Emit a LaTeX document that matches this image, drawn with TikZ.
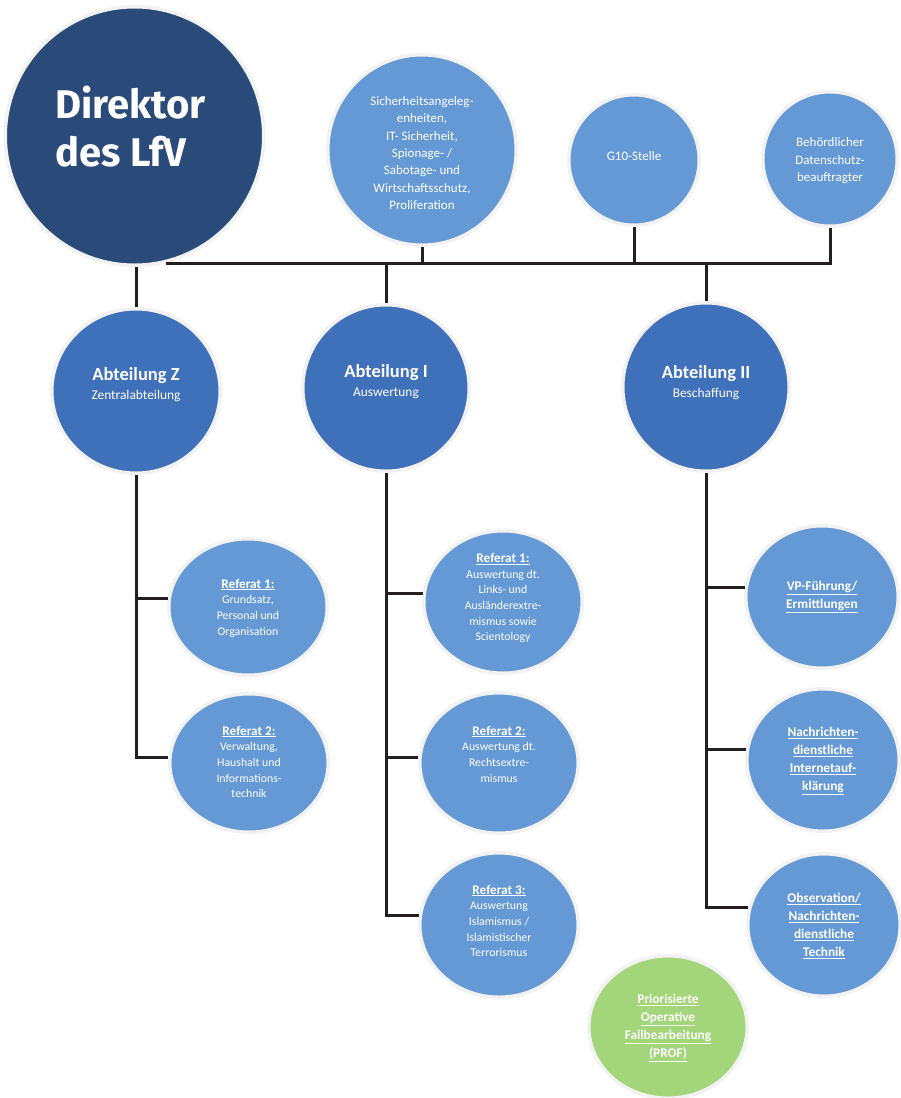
\documentclass[tikz,border=0pt]{standalone}
\usepackage{fontspec}
\setmainfont{Carlito}
\newfontfamily\dirfont{Fira Sans}
\usetikzlibrary{shapes.geometric}
\definecolor{dirblue}{HTML}{2A4A7A}
\definecolor{abtblue}{HTML}{3F70BA}
\definecolor{refblue}{HTML}{6499D6}
\definecolor{profgreen}{HTML}{A3D57A}
\definecolor{ringgray}{HTML}{F2F2F2}
\definecolor{linec}{HTML}{231F20}
\begin{document}
\begin{tikzpicture}[x=1pt,y=-1pt,
  el/.style 2 args={ellipse, draw=ringgray, line width=3.5pt, inner sep=0pt,
    minimum width=#1, minimum height=#2},
  conn/.style={draw=linec, line width=3pt},
  txt/.style={text=white, align=center, inner sep=0pt},
  toptxt/.style={txt, font=\fontsize{13}{17.4}\selectfont},
  reftxt/.style={txt, font=\fontsize{11.8}{15.7}\selectfont},
  ultxt/.style={txt, font=\bfseries\fontsize{13.3}{18}\selectfont},
]
\useasboundingbox (0,0) rectangle (901,1098);
\fill[white] (0,0) rectangle (901,1098);

% circles
\node[el={258.5pt}{258.5pt}, fill=dirblue] (dir) at (134.5,136) {};
\node[el={188.5pt}{190.5pt}, fill=refblue] (sich) at (422,150) {};
\node[el={130.5pt}{130.5pt}, fill=refblue] (g10) at (634,160) {};
\node[el={134.5pt}{134.5pt}, fill=refblue] (beh) at (830,159) {};

\node[el={168.5pt}{164.5pt}, fill=abtblue] (abtz) at (136,391) {};
\node[el={166.5pt}{166.5pt}, fill=abtblue] (abti) at (386,388) {};
\node[el={166.5pt}{168.5pt}, fill=abtblue] (abtii) at (706,387) {};

\node[el={158.5pt}{136.5pt}, fill=refblue] (rz1) at (248,607) {};
\node[el={158.5pt}{138.5pt}, fill=refblue] (rz2) at (249,763) {};
\node[el={158.5pt}{142.5pt}, fill=refblue] (ri1) at (503,602) {};
\node[el={158.5pt}{140.5pt}, fill=refblue] (ri2) at (499,763) {};
\node[el={158.5pt}{144.5pt}, fill=refblue] (ri3) at (499,925) {};

\node[el={152.5pt}{142.5pt}, fill=refblue] (vp) at (822,597) {};
\node[el={152.5pt}{142.5pt}, fill=refblue] (nd) at (823,760) {};
\node[el={152.5pt}{142.5pt}, fill=refblue] (obs) at (824,925) {};
\node[el={158.5pt}{142.5pt}, fill=profgreen] (prof) at (668,1027) {};

% connectors
\coordinate (bar) at (0,263);
\draw[conn] (dir.-76) -| (beh.south);
\draw[conn] (sich.south) -- (sich.south |- bar);
\draw[conn] (g10.south) -- (g10.south |- bar);
\draw[conn] (abtz.north) -- (abtz.north |- dir.south);
\draw[conn] (abti.north) -- (abti.north |- bar);
\draw[conn] (abtii.north) -- (abtii.north |- bar);

\draw[conn] (abtz.south) |- (rz2.176);
\draw[conn] (rz1.174) -| (abtz.south);
\draw[conn] (abti.south) |- (ri3.173);
\draw[conn] (ri1.174) -| (abti.south);
\draw[conn] (ri2.176) -| (abti.south);
\draw[conn] (abtii.south) |- (obs.167);
\draw[conn] (vp.173) -| (abtii.south);
\draw[conn] (nd.172) -| (abtii.south);

% texts
\node[anchor=base west, text=white, align=left, inner sep=0pt,
  font=\dirfont\bfseries\fontsize{40}{48}\selectfont] (dirt) at (55,166) {Direktor\\des LfV};

\node[toptxt] (sicht) at (422,153) {Sicherheitsangeleg-\\enheiten,\\IT- Sicherheit,\\Spionage- /\\Sabotage- und\\Wirtschaftsschutz,\\Proliferation};
\node[toptxt] (g10t) at (634,156) {G10-Stelle};
\node[toptxt] (beht) at (830,161) {Behördlicher\\Datenschutz-\\beauftragter};

\node[txt, font=\fontsize{13.4}{19}\selectfont] (abtzt) at (136,385) {{\bfseries\fontsize{18.5}{19}\selectfont Abteilung Z}\\Zentralabteilung};
\node[txt, font=\fontsize{13.4}{19}\selectfont] (abtit) at (386,382) {{\bfseries\fontsize{18.5}{19}\selectfont Abteilung I}\\Auswertung};
\node[txt, font=\fontsize{13.4}{19}\selectfont] (abtiit) at (706,383) {{\bfseries\fontsize{18.5}{19}\selectfont Abteilung II}\\Beschaffung};

\node[reftxt] (rz1t) at (248,608) {{\bfseries\fontsize{13.2}{15.7}\selectfont\underline{Referat 1:}}\\Grundsatz,\\Personal und\\Organisation};
\node[reftxt] (rz2t) at (249,762) {{\bfseries\fontsize{13.2}{15.7}\selectfont\underline{Referat 2:}}\\Verwaltung,\\Haushalt und\\Informations-\\technik};
\node[reftxt] (ri1t) at (503,598) {{\bfseries\fontsize{13.2}{15.7}\selectfont\underline{Referat 1:}}\\Auswertung dt.\\Links- und\\Ausländerextre-\\mismus sowie\\Scientology};
\node[reftxt] (ri2t) at (499,754) {{\bfseries\fontsize{13.2}{15.7}\selectfont\underline{Referat 2:}}\\Auswertung dt.\\Rechtsextre-\\mismus};
\node[reftxt] (ri3t) at (499,921) {{\bfseries\fontsize{13.2}{15.7}\selectfont\underline{Referat 3:}}\\Auswertung\\Islamismus /\\Islamistischer\\Terrorismus};

\node[ultxt] (vpt) at (822,597) {\underline{VP-Führung/}\\\underline{Ermittlungen}};
\node[ultxt] (ndt) at (823,761) {\underline{Nachrichten-}\\\underline{dienstliche}\\\underline{Internetauf-}\\\underline{klärung}};
\node[ultxt] (obst) at (824,926) {\underline{Observation/}\\\underline{Nachrichten-}\\\underline{dienstliche}\\\underline{Technik}};
\node[ultxt] (proft) at (668,1028) {\underline{Priorisierte}\\\underline{Operative}\\\underline{Fallbearbeitung}\\\underline{(PROF)}};
\end{tikzpicture}
\end{document}
